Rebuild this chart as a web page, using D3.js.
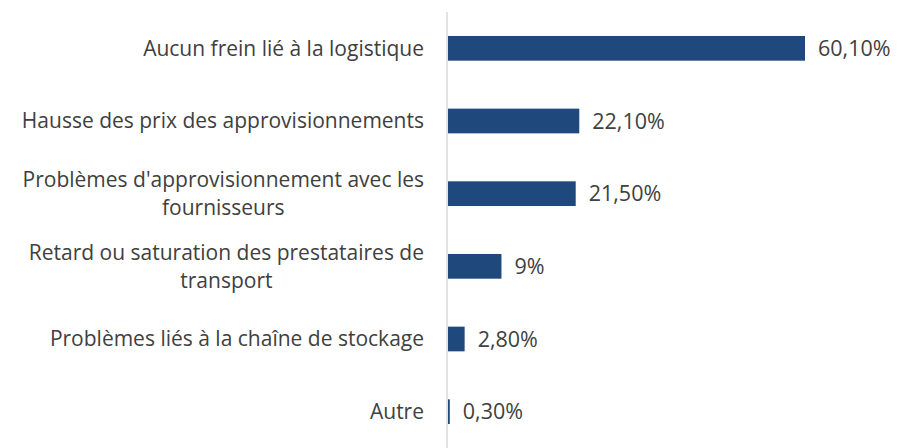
<!DOCTYPE html>
<html>
<head>
<meta charset="utf-8">
<script src="https://cdn.jsdelivr.net/npm/d3@7"></script>
<style>
  body { margin: 0; background: #fff; }
  .label { font-family: "Open Sans", sans-serif; font-size: 21px; fill: #404040; }
  .value { font-size: 21.5px; }
</style>
</head>
<body>
<svg id="chart"></svg>
<script>
// categories (one array entry per line of the label)
const categories = [
  ["Aucun frein lié à la logistique"],
  ["Hausse des prix des approvisionnements"],
  ["Problèmes d'approvisionnement avec les", "fournisseurs"],
  ["Retard ou saturation des prestataires de", "transport"],
  ["Problèmes liés à la chaîne de stockage"],
  ["Autre"]
]
const values = [60.1, 22.1, 21.5, 9, 2.8, 0.3]
const valueLabels = ["60,10%", "22,10%", "21,50%", "9%", "2,80%", "0,30%"]

const width = 898, height = 448
const margin = {top: 12, right: 0, bottom: 0, left: 448}

const svg = d3.select("#chart")
  .attr("width", width)
  .attr("height", height)

const x = d3.scaleLinear()
  .domain([0, 60.1])
  .range([margin.left, 805])

const y = d3.scaleBand()
  .domain(d3.range(categories.length))
  .range([margin.top, height])
  .paddingInner(0.66)
  .paddingOuter(0.33)

const rows = svg.append("g")
  .selectAll("g")
  .data(values)
  .enter().append("g")

rows.append("rect")
  .attr("x", x(0))
  .attr("y", (d, i) => y(i))
  .attr("height", y.bandwidth())
  .attr("width", d => x(d) - x(0))
  .attr("fill", "#1f497d")

rows.append("text")
  .attr("class", "label value")
  .attr("x", d => x(d) + 13)
  .attr("y", (d, i) => y(i) + y.bandwidth() / 2)
  .attr("dy", "0.35em")
  .text((d, i) => valueLabels[i])

// category labels: single lines right-aligned, wrapped lines centred in their block
const labelRight = 424, lineGap = 28
const catGroups = svg.append("g")
  .selectAll("g")
  .data(categories)
  .enter().append("g")

catGroups.each(function(lines, i) {
  const g = d3.select(this)
  const cy = y(i) + y.bandwidth() / 2
  const texts = g.selectAll("text")
    .data(lines)
    .enter().append("text")
    .attr("class", "label")
    .attr("y", (l, j) => cy + (j - (lines.length - 1) / 2) * lineGap)
    .attr("dy", "0.35em")
    .text(l => l)
  const widths = texts.nodes().map(n => n.getComputedTextLength())
  const maxW = d3.max(widths)
  texts.attr("text-anchor", "middle")
    .attr("x", labelRight - maxW / 2)
})

// axis line
svg.append("line")
  .attr("x1", x(0) - 1)
  .attr("x2", x(0) - 1)
  .attr("y1", margin.top)
  .attr("y2", height)
  .attr("stroke", "#d9d9d9")
  .attr("stroke-width", 1.5)
</script>
</body>
</html>
